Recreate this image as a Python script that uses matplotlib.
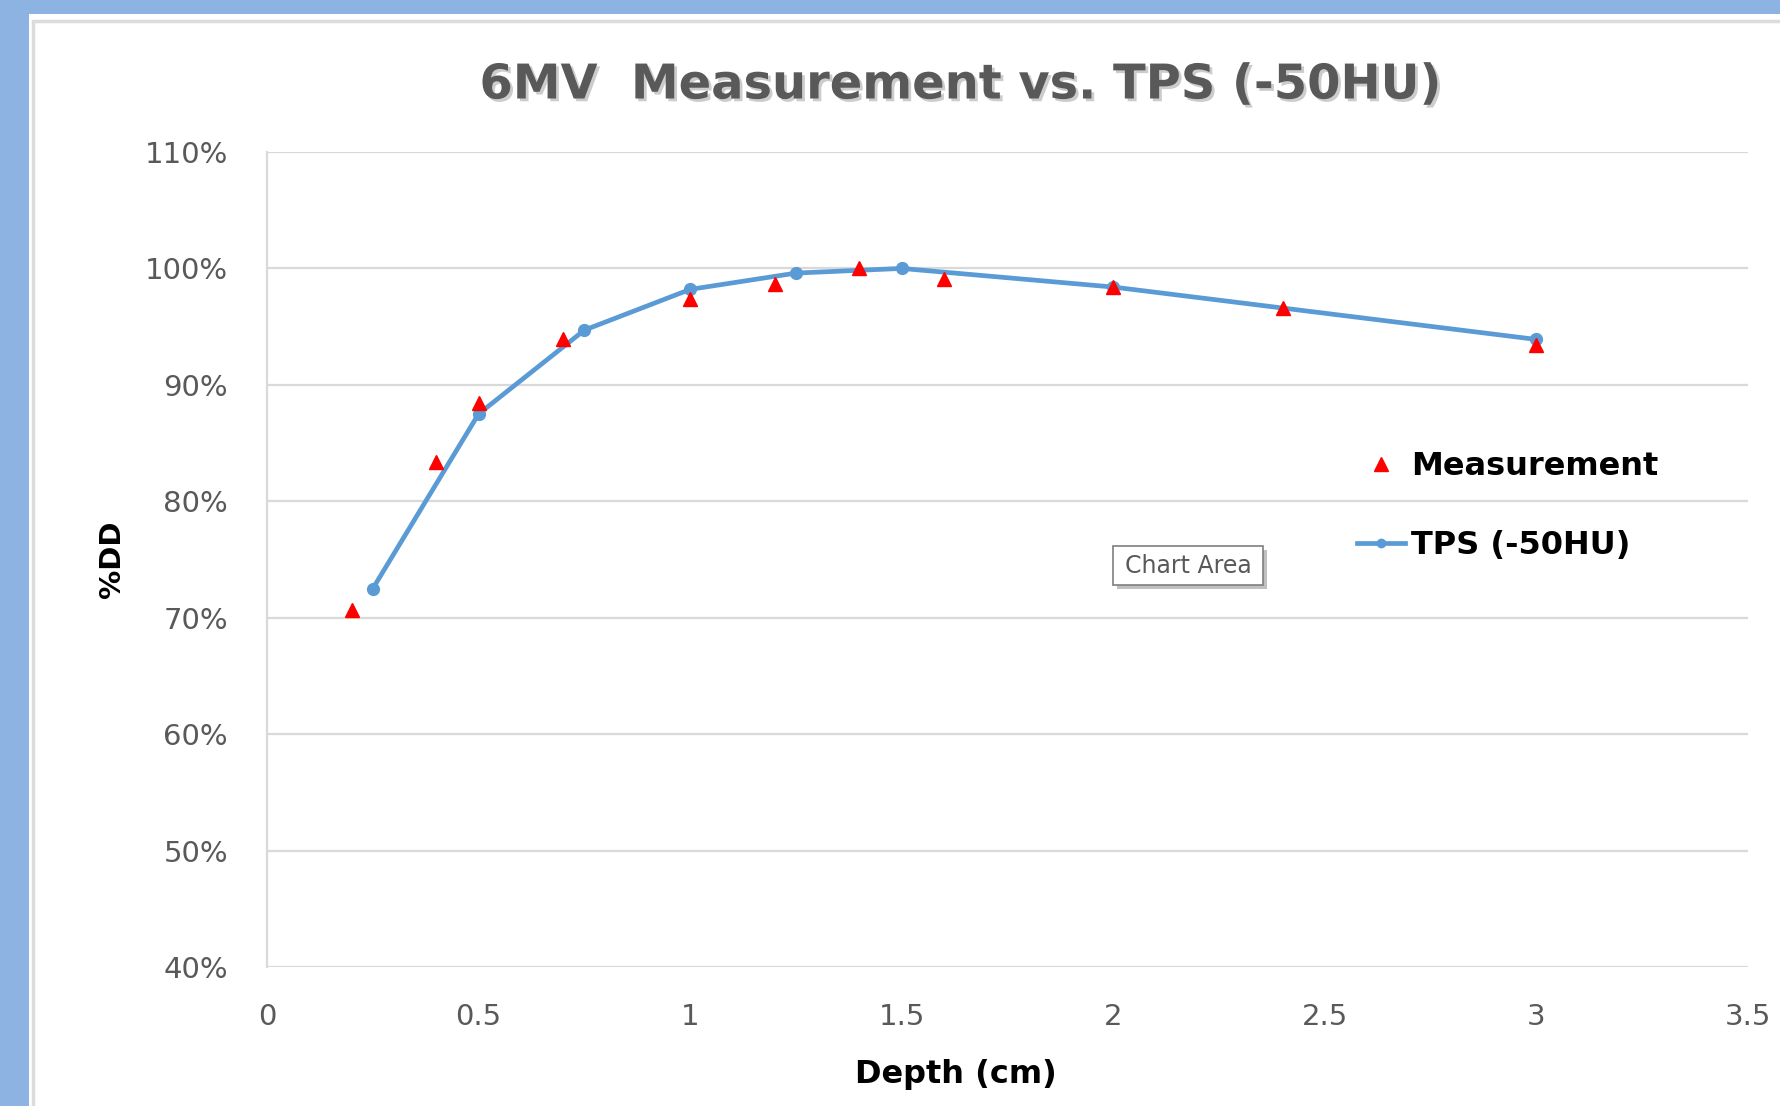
import matplotlib
matplotlib.use("Agg")
import matplotlib.pyplot as plt
import matplotlib.patheffects as pe
from matplotlib.lines import Line2D
from matplotlib.patches import Rectangle

# ---- data ----
meas_depth = [0.2, 0.4, 0.5, 0.7, 1.0, 1.2, 1.4, 1.6, 2.0, 2.4, 3.0]
meas_pdd = [70.7, 83.4, 88.4, 93.9, 97.4, 98.7, 100.0, 99.1, 98.4, 96.6, 93.4]
tps_depth = [0.25, 0.5, 0.75, 1.0, 1.25, 1.5, 2.0, 3.0]
tps_pdd = [72.5, 87.5, 94.7, 98.2, 99.6, 100.0, 98.4, 93.9]
x_ticks = [0, 0.5, 1, 1.5, 2, 2.5, 3, 3.5]
x_tick_labels = ["0", "0.5", "1", "1.5", "2", "2.5", "3", "3.5"]
y_ticks = [40, 50, 60, 70, 80, 90, 100, 110]
y_tick_labels = ["40%", "50%", "60%", "70%", "80%", "90%", "100%", "110%"]

W, H = 1781, 1106
fig = plt.figure(figsize=(W / 100, H / 100), dpi=100)
fig.patch.set_facecolor("#8db3e2")

def fx(px):
    return px / W

def fy(py):
    return 1 - py / H

# white chart background + light frame
fig.add_artist(Rectangle((fx(29), 0), 1, fy(14), transform=fig.transFigure,
                         facecolor="white", edgecolor="none", zorder=-10))
fig.add_artist(Rectangle((fx(33), -0.05), 1.2, fy(21) + 0.05, transform=fig.transFigure,
                         facecolor="white", edgecolor="#dcdcdc", linewidth=2.5, zorder=-9))

ax = fig.add_axes([fx(267), fy(967), fx(1748) - fx(267), fy(152) - fy(967)])
ax.set_facecolor("none")
ax.set_xlim(0, 3.5)
ax.set_ylim(40, 110)
ax.set_xticks(x_ticks)
ax.set_xticklabels(x_tick_labels)
ax.set_yticks(y_ticks)
ax.set_yticklabels(y_tick_labels)
ax.grid(axis="y", color="#d9d9d9", linewidth=1.6)
ax.set_axisbelow(True)
for s in ["top", "right", "bottom"]:
    ax.spines[s].set_visible(False)
ax.spines["left"].set_color("#d9d9d9")
ax.spines["left"].set_linewidth(1.6)
ax.tick_params(axis="both", length=0, labelsize=21, labelcolor="#595959")
ax.tick_params(axis="y", pad=28)
ax.tick_params(axis="x", pad=26)

line_color = "#5b9bd5"
ax.plot(tps_depth, tps_pdd, color=line_color, linewidth=3.4, marker="o",
        markersize=8.5, zorder=3, label="TPS (-50HU)")
ax.plot(meas_depth, meas_pdd, linestyle="none", marker="^", color="#ff0000",
        markersize=10, zorder=4, label="Measurement")

ax.set_ylabel("%DD", fontsize=21, fontweight="bold", color="black")
ax.yaxis.set_label_coords(-0.095, 0.5)
ax.set_xlabel("Depth (cm)", fontsize=23, fontweight="bold", color="black")
ax.xaxis.set_label_coords(0.465, -0.113)

# title
fig.text(fx(960), fy(85), "6MV  Measurement vs. TPS (-50HU)", ha="center", va="center",
         fontsize=34.5, fontweight="bold", color="#595959",
         path_effects=[pe.SimplePatchShadow(offset=(2, -2), shadow_rgbFace="#c0c0c0", alpha=0.8),
                       pe.Normal()])

# legend
handles = [Line2D([], [], linestyle="none", marker="^", color="#ff0000", markersize=10),
           Line2D([], [], color=line_color, linewidth=3.4, marker="o", markersize=6)]
fig.legend(handles, ["Measurement", "TPS (-50HU)"], loc="center left",
           bbox_to_anchor=(fx(1357), fy(506)), frameon=False, borderpad=0,
           borderaxespad=0, labelspacing=1.5, handlelength=1.5, handletextpad=0.2,
           prop={"size": 23, "weight": "bold"})

# "Chart Area" tooltip
fig.add_artist(Rectangle((fx(1117), fy(589)), fx(150), fy(546) - fy(585), transform=fig.transFigure,
                         facecolor="#a6a6a6", edgecolor="none", alpha=0.7, zorder=5))
fig.add_artist(Rectangle((fx(1113), fy(585)), fx(150), fy(546) - fy(585), transform=fig.transFigure,
                         facecolor="white", edgecolor="#7f7f7f", linewidth=1.2, zorder=6))
fig.text(fx(1188), fy(566), "Chart Area", ha="center", va="center", fontsize=17,
         color="#595959", zorder=7)

fig.savefig("out.png", dpi=100, facecolor=fig.get_facecolor())
